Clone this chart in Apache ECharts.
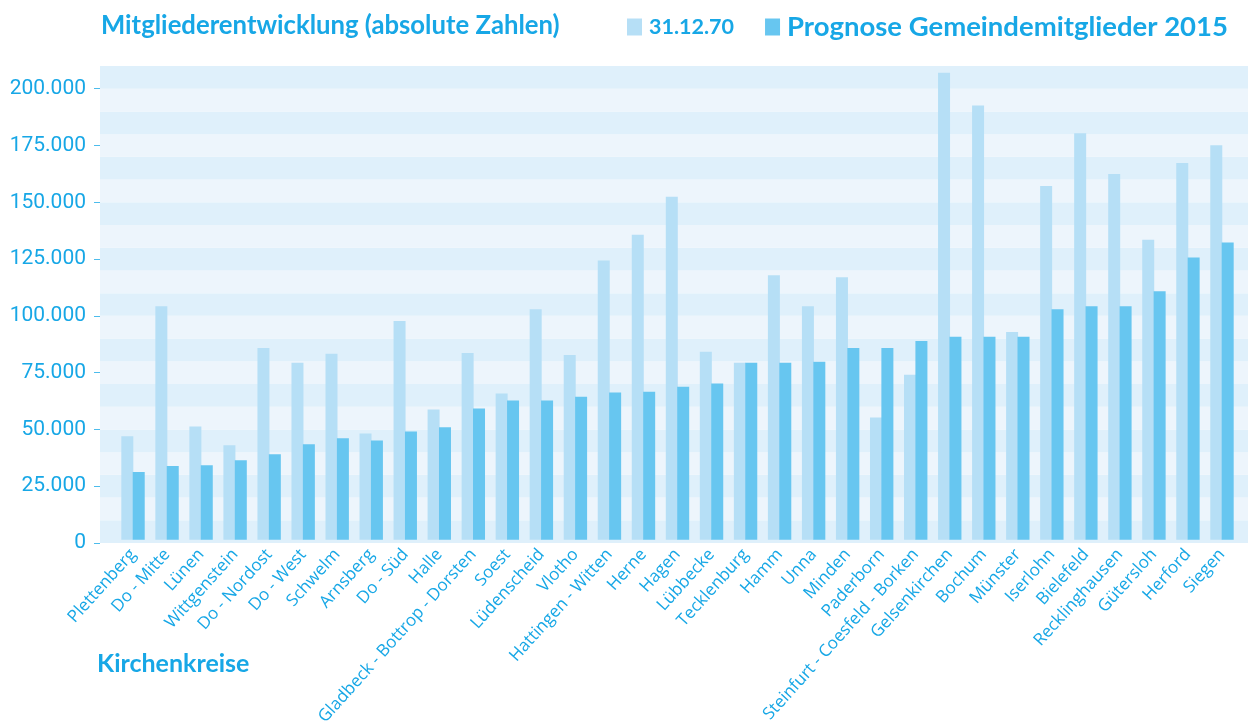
<!DOCTYPE html>
<html><head><meta charset="utf-8">
<script src="https://cdn.jsdelivr.net/npm/echarts@6/dist/echarts.min.js"></script>
<style>html,body{margin:0;padding:0;background:#fff}#c{width:1248px;height:728px}</style>
</head><body><div id="c"></div>
<script>
const categories = ['Plettenberg','Do - Mitte','Lünen','Wittgenstein','Do - Nordost','Do - West','Schwelm','Arnsberg','Do - Süd','Halle','Gladbeck - Bottrop - Dorsten','Soest','Lüdenscheid','Vlotho','Hattingen - Witten','Herne','Hagen','Lübbecke','Tecklenburg','Hamm','Unna','Minden','Paderborn','Steinfurt - Coesfeld - Borken','Gelsenkirchen','Bochum','Münster','Iserlohn','Bielefeld','Recklinghausen','Gütersloh','Herford','Siegen'];
const members1970 = [45800,103500,50200,41800,85000,78400,82400,47100,96900,57700,82800,64800,102200,81900,123800,135200,152000,83300,78400,117200,103500,116300,54200,73100,207000,192500,92100,156800,180200,162100,133000,167000,174900];
const forecast2015 = [30000,32600,33000,35200,37900,42300,44900,44000,48000,49800,58100,61700,61700,63400,65200,65600,67800,69200,78400,78400,78900,85000,85000,88100,89900,89900,89900,102200,103500,103500,110100,125100,131700];
const yTicks = [0,25000,50000,75000,100000,125000,150000,175000,200000];
const seriesNames = ['31.12.70','Prognose Gemeindemitglieder 2015'];

const BLUE = '#17a7e6';
const fmt = v => String(v).replace(/\B(?=(\d{3})+(?!\d))/g, '.');
const chart = echarts.init(document.getElementById('c'));
chart.setOption({
  animation: false,
  title: { text: 'Mitgliederentwicklung (absolute Zahlen)', left: 96, top: 8,
    textStyle: { color: BLUE, fontSize: 25.7, fontWeight: 'bold', fontFamily: 'Lato' } },
  legend: { left: 622, top: 8, itemWidth: 15, itemHeight: 17, itemGap: 31, icon: 'rect',
    data: seriesNames,
    formatter: n => n === seriesNames[0] ? '{a|' + n + '}' : '{b|' + n + '}',
    textStyle: { color: BLUE, fontWeight: 'bold', fontFamily: 'Lato', padding: [0,0,0,2],
      rich: { a: { fontSize: 21.5, fontWeight: 'bold', color: BLUE, fontFamily: 'Lato' },
              b: { fontSize: 27.5, fontWeight: 'bold', color: BLUE, fontFamily: 'Lato' } } } },
  grid: [
    { left: 100, right: 0, top: 66, bottom: 185 },
    { left: 116, right: 9, top: 66, bottom: 185 }
  ],
  xAxis: [
    { gridIndex: 0, type: 'value', show: false },
    { gridIndex: 1, type: 'category', data: categories,
      axisLine: { show: false }, axisTick: { show: false },
      axisLabel: { interval: 0, rotate: 48, color: BLUE, fontSize: 17, fontFamily: 'Open Sans', margin: 12 } }
  ],
  yAxis: [
    { gridIndex: 0, type: 'value', min: 0, max: 210000, interval: 10000,
      axisLine: { show: false }, splitLine: { show: false }, axisTick: { show: false }, axisLabel: { show: false },
      splitArea: { show: true, areaStyle: { color: ['#dff0fb', '#edf5fc'] } } },
    { gridIndex: 1, type: 'value', min: 0, max: 210000, show: false },
    { gridIndex: 0, type: 'value', min: 0, max: 210000, interval: 25000, position: 'left', offset: 0,
      axisLine: { show: false }, splitLine: { show: false }, splitArea: { show: false },
      axisTick: { show: true, length: 6, customValues: yTicks, lineStyle: { color: '#4dbcec', width: 1 } },
      axisLabel: { customValues: yTicks, formatter: fmt, color: BLUE, fontSize: 21, fontFamily: 'Roboto', margin: 14 } }
  ],
  series: [
    { name: seriesNames[0], type: 'bar', xAxisIndex: 1, yAxisIndex: 1, data: members1970,
      barWidth: 12, barGap: '-5%', itemStyle: { color: '#b6dff6' } },
    { name: seriesNames[1], type: 'bar', xAxisIndex: 1, yAxisIndex: 1, data: forecast2015,
      barWidth: 12, itemStyle: { color: '#67c6f0' } }
  ],
  graphic: [
    { type: 'text', left: 168, top: 92, style: { text: '2015\n< 50.000', fill: BLUE, fontSize: 15, fontWeight: 'bold', fontFamily: 'Open Sans', lineHeight: 22 } },
    { type: 'text', left: 1111, top: 92, style: { text: '2015\n> 100.000', fill: BLUE, fontSize: 15, fontWeight: 'bold', fontFamily: 'Open Sans', lineHeight: 22 } },
    { type: 'text', left: 97, top: 651, style: { text: 'Kirchenkreise', fill: BLUE, fontSize: 25, fontWeight: 'bold', fontFamily: 'Lato' } }
  ]
});
</script></body></html>
